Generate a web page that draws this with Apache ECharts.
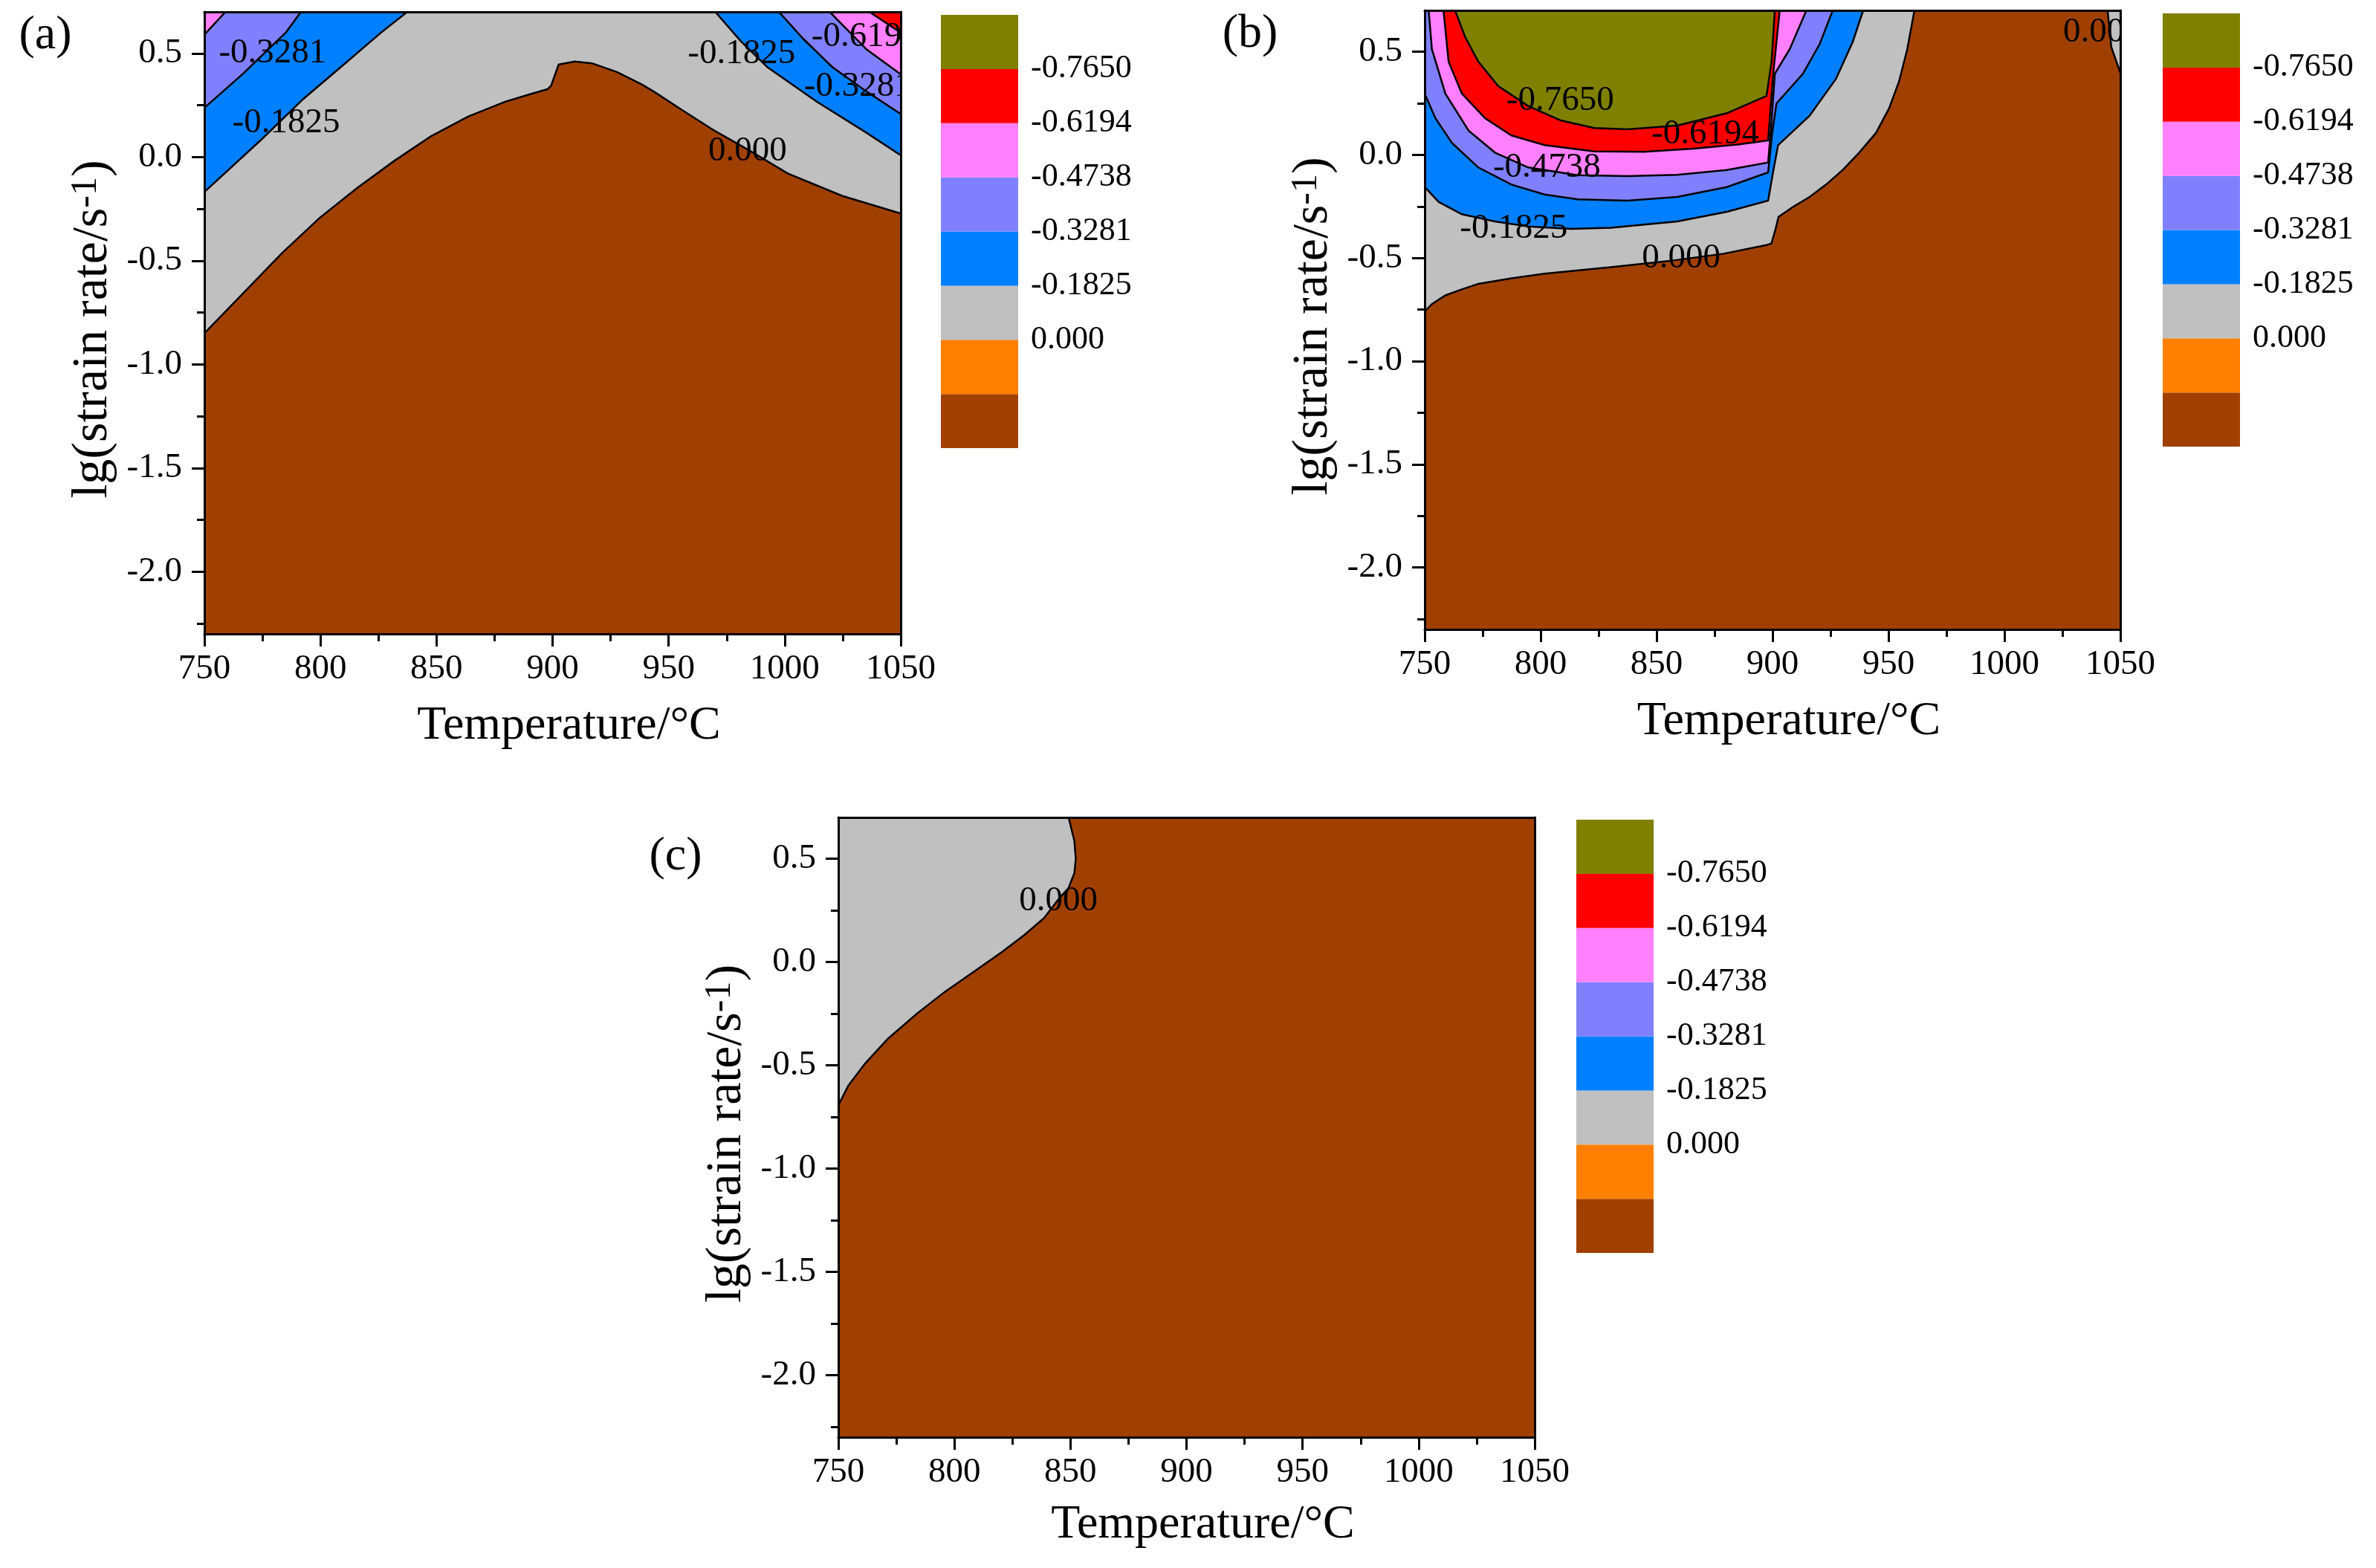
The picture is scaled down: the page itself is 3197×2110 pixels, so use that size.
<!DOCTYPE html>
<html><head><meta charset="utf-8">
<script src="https://cdn.jsdelivr.net/npm/echarts@6/dist/echarts.min.js"></script>
<style>html,body{margin:0;padding:0;background:#fff}#c{width:3197px;height:2110px}</style>
</head><body><div id="c"></div><script>
// ---------- axis / legend data ----------
const T_RANGE = [750, 1050];
const LG_RANGE = [-2.3, 0.7];
const Y_TICKS = [-2.0, -1.5, -1.0, -0.5, 0.0, 0.5];
const Y_MINOR = [-2.25, -1.75, -1.25, -0.75, -0.25, 0.25];
const LEVEL_LABELS = ['', '', '0.000', '-0.1825', '-0.3281', '-0.4738', '-0.6194', '-0.7650', ''];
const LEVEL_COLORS = ['#A04000', '#FF8000', '#C0C0C0', '#0080FF', '#8080FF', '#FF80FF', '#FF0000', '#808000'];
const PLOT_RECT = [[750, -2.3], [1050, -2.3], [1050, 0.7], [750, 0.7]];

// ---------- panel (a) contour lines [T, lg(rate)] ----------
const A_c0 = [[750,-0.85],[765,-0.677],[783.6,-0.462],[799.6,-0.294],[815.6,-0.151],[831.6,-0.02],[847.6,0.100],[863.6,0.195],[879.6,0.267],[890.3,0.303],[897.8,0.327],[899.4,0.345],[902.6,0.446],[909.5,0.461],[917,0.452],[927.7,0.41],[938.3,0.351],[943.7,0.315],[956,0.225],[969.3,0.130],[985,0.03],[1001.3,-0.079],[1024.7,-0.187],[1050,-0.272]];
const A_l1 = [[750,-0.169],[775,0.089],[792.6,0.28],[811.3,0.458],[826.2,0.601],[837.4,0.70]];
const A_l2 = [[750,0.237],[766.5,0.40],[785.2,0.602],[791.6,0.70]];
const A_l3 = [[750,0.59],[759.1,0.70]];
const A_r1 = [[970.1,0.70],[981,0.56],[992.5,0.434],[1013.8,0.267],[1035.1,0.118],[1050,0.008]];
const A_r2 = [[997.5,0.70],[1008,0.57],[1020.5,0.434],[1035.4,0.315],[1050,0.207]];
const A_r3 = [[1019.4,0.70],[1035.4,0.518],[1050,0.399]];
const A_r4 = [[1036.5,0.70],[1050,0.60]];
const A_labels = [[779.4,0.50,'-0.3281','center'],[785.2,0.162,'-0.1825','center'],[984,0.026,'0.000','center'],[981.4,0.497,'-0.1825','center'],[1008.3,0.339,'-0.3281','left'],[1011.5,0.578,'-0.6194','left']];

// ---------- panel (b) ----------
const B_c0 = [[750,-0.759],[753.1,-0.723],[758.9,-0.681],[766,-0.652],[773.1,-0.625],[787.4,-0.598],[801.7,-0.576],[830.3,-0.544],[855,-0.515],[878.9,-0.479],[897.4,-0.437],[899.5,-0.43],[901.3,-0.36],[902.6,-0.30],[908.9,-0.252],[916,-0.204],[923.1,-0.144],[930.3,-0.073],[937.4,0.011],[944.6,0.106],[950.3,0.226],[954.6,0.357],[958.1,0.512],[961.2,0.70]];
const B_c0b = [[1044.5,0.70],[1046.1,0.523],[1050,0.397]];
const B_l1 = [[750,-0.156],[756,-0.228],[766,-0.288],[780.3,-0.323],[794.6,-0.347],[813.1,-0.359],[830.3,-0.353],[858.9,-0.323],[880.3,-0.276],[898.1,-0.222],[900.3,-0.08],[902.4,0.047],[916,0.190],[927.4,0.369],[934.6,0.548],[939.1,0.70]];
const B_l2 = [[750,0.297],[754.6,0.178],[761.7,0.058],[773.1,-0.061],[787.4,-0.144],[801.7,-0.192],[816,-0.216],[837.4,-0.222],[858.9,-0.204],[880.3,-0.156],[898.1,-0.085],[899.8,0.10],[901.7,0.249],[913.1,0.393],[920.3,0.536],[926,0.70]];
const B_l3 = [[751.7,0.70],[753.1,0.512],[758.9,0.297],[768.9,0.118],[780.3,0.011],[794.6,-0.061],[816,-0.099],[837.4,-0.103],[858.9,-0.097],[880.3,-0.073],[898.1,-0.037],[899.5,0.15],[901,0.393],[907.4,0.512],[914.6,0.70]];
const B_l4 = [[758.1,0.70],[760.3,0.452],[766,0.297],[776,0.178],[787.4,0.094],[801.7,0.047],[823.1,0.017],[844.6,0.015],[866,0.03],[885,0.05],[898.1,0.07],[900.3,0.393],[903.1,0.70]];
const B_l5 = [[763.1,0.70],[767.4,0.572],[773.1,0.452],[781.7,0.333],[794.6,0.237],[808.9,0.166],[823.1,0.130],[837.4,0.124],[858.9,0.142],[880.3,0.202],[897.4,0.285],[899.6,0.452],[901,0.70]];
const B_labels = [[808.4,0.261,'-0.7650','center'],[871,0.100,'-0.6194','center'],[802.7,-0.061,'-0.4738','center'],[788.4,-0.359,'-0.1825','center'],[860.6,-0.50,'0.000','center'],[1025.3,0.592,'0.000','left']];

// ---------- panel (c) ----------
const C_c0 = [[849.2,0.70],[851.7,0.586],[852.3,0.50],[851.7,0.431],[849.2,0.359],[844.9,0.305],[838.8,0.215],[830.2,0.132],[820.4,0.048],[808.2,-0.048],[795.9,-0.144],[783.7,-0.251],[771.4,-0.371],[761.6,-0.49],[754.3,-0.598],[750,-0.694]];
const C_labels = [[844.8,0.293,'0.000','center']];

const TL = [750, 0.7], TR = [1050, 0.7];
const FONT = '"Liberation Serif", "Times New Roman", serif';

const panels = [
  { grid: {left: 275, top: 16, width: 937, height: 837}, cbar: {left: 1266, top: 20, width: 104, height: 583}, xNameGap: 92,
    regions: [[PLOT_RECT,0],[A_c0.concat([TR,TL]),2],[A_l1.concat([TL]),3],[A_l2.concat([TL]),4],[A_l3.concat([TL]),5],
              [A_r1.concat([TR]),3],[A_r2.concat([TR]),4],[A_r3.concat([TR]),5],[A_r4.concat([TR]),6]],
    lines: [A_c0,A_l1,A_l2,A_l3,A_r1,A_r2,A_r3,A_r4], labels: A_labels, letter: ['(a)', 61, 48] },
  { grid: {left: 1917, top: 14, width: 936, height: 833}, cbar: {left: 2910, top: 18, width: 104, height: 583}, xNameGap: 92,
    regions: [[PLOT_RECT,0],[B_c0.concat([TL]),2],[B_c0b.concat([TR]),2],[B_l1.concat([TL]),3],[B_l2.concat([TL]),4],
              [B_l3,5],[B_l4,6],[B_l5,7]],
    lines: [B_c0,B_c0b,B_l1,B_l2,B_l3,B_l4,B_l5], labels: B_labels, letter: ['(b)', 1682, 46] },
  { grid: {left: 1128, top: 1100, width: 937, height: 834}, cbar: {left: 2121, top: 1103, width: 104, height: 583}, xNameGap: 86,
    regions: [[PLOT_RECT,0],[C_c0.concat([TL]),2]],
    lines: [C_c0], labels: C_labels, letter: ['(c)', 909, 1153] }
];

const grid = [], xAxis = [], yAxis = [], series = [], graphic = [];
const axisBlack = {color: '#000', width: 3};
panels.forEach((p) => {
  const gi = grid.length;
  grid.push(Object.assign({containLabel: false, outerBoundsMode: 'none'}, p.grid));
  grid.push(Object.assign({containLabel: false, outerBoundsMode: 'none'}, p.cbar));
  const xi = xAxis.length;
  xAxis.push({
    gridIndex: gi, type: 'value', min: T_RANGE[0], max: T_RANGE[1], interval: 50, position: 'bottom', z: 10,
    name: 'Temperature/°C', nameLocation: 'middle', nameGap: p.xNameGap,
    nameTextStyle: {fontSize: 64, fontFamily: FONT, color: '#000', padding: [0, 0, 0, 44]},
    axisLine: {show: true, onZero: false, lineStyle: axisBlack},
    axisTick: {show: true, inside: false, length: 17, lineStyle: axisBlack},
    minorTick: {show: true, splitNumber: 2, length: 10, lineStyle: axisBlack},
    axisLabel: {fontSize: 47, fontFamily: FONT, color: '#000', margin: 24, formatter: (v) => String(v)},
    splitLine: {show: false}, minorSplitLine: {show: false}
  });
  xAxis.push({gridIndex: gi, type: 'value', min: T_RANGE[0], max: T_RANGE[1], position: 'top', z: 10,
    axisLine: {show: true, onZero: false, lineStyle: axisBlack}, axisTick: {show: false}, axisLabel: {show: false}, splitLine: {show: false}});
  xAxis.push({gridIndex: gi + 1, type: 'value', min: 0, max: 1, show: false});
  const yi = yAxis.length;
  yAxis.push({
    gridIndex: gi, type: 'value', min: LG_RANGE[0], max: LG_RANGE[1], position: 'left', z: 10,
    name: '{n|lg(strain rate/s}{s|-1}{n|)}', nameLocation: 'middle', nameGap: 116, nameRotate: 90,
    nameTextStyle: {padding: [0, 17, 0, 0], rich: {
      n: {fontSize: 68, fontFamily: FONT, color: '#000'},
      s: {fontSize: 50, fontFamily: FONT, color: '#000', verticalAlign: 'top'}
    }},
    axisLine: {show: true, onZero: false, lineStyle: axisBlack},
    axisTick: {show: true, inside: false, length: 17, lineStyle: axisBlack, customValues: Y_TICKS},
    axisLabel: {fontSize: 47, fontFamily: FONT, color: '#000', margin: 30, customValues: Y_TICKS,
      formatter: (v) => Number(v).toFixed(1)},
    splitLine: {show: false}
  });
  yAxis.push({gridIndex: gi, type: 'value', min: LG_RANGE[0], max: LG_RANGE[1], position: 'left', z: 10,
    axisLine: {show: false}, axisTick: {show: true, inside: false, length: 10, lineStyle: axisBlack, customValues: Y_MINOR},
    axisLabel: {show: false}, splitLine: {show: false}});
  yAxis.push({gridIndex: gi, type: 'value', min: LG_RANGE[0], max: LG_RANGE[1], position: 'right', z: 10,
    axisLine: {show: true, onZero: false, lineStyle: axisBlack}, axisTick: {show: false}, axisLabel: {show: false}, splitLine: {show: false}});
  yAxis.push({gridIndex: gi + 1, type: 'value', min: 0, max: 8, interval: 1, position: 'right',
    axisLine: {show: false}, axisTick: {show: false}, splitLine: {show: false},
    axisLabel: {fontSize: 44, fontFamily: FONT, color: '#000', margin: 17, padding: [20, 0, 0, 0],
      formatter: (v) => LEVEL_LABELS[Math.round(v)] || ''}});

  // filled contour regions
  const regs = p.regions;
  series.push({type: 'custom', xAxisIndex: xi, yAxisIndex: yi, z: 2, clip: true, silent: true,
    data: regs.map(r => r[0][0]),
    renderItem: (params, api) => {
      const r = regs[params.dataIndex];
      return {type: 'polygon', shape: {points: r[0].map(pt => api.coord(pt))}, style: {fill: LEVEL_COLORS[r[1]]}};
    }});
  // contour lines
  const lns = p.lines;
  series.push({type: 'custom', xAxisIndex: xi, yAxisIndex: yi, z: 3, clip: true, silent: true,
    data: lns.map(l => l[0]),
    renderItem: (params, api) => ({type: 'polyline', shape: {points: lns[params.dataIndex].map(pt => api.coord(pt))},
      style: {stroke: '#000', lineWidth: 2.5, fill: null}})});
  // contour labels
  const lbs = p.labels;
  series.push({type: 'custom', xAxisIndex: xi, yAxisIndex: yi, z: 4, clip: true, silent: true,
    data: lbs.map(l => [l[0], l[1]]),
    renderItem: (params, api) => {
      const l = lbs[params.dataIndex];
      const c = api.coord([l[0], l[1]]);
      return {type: 'text', x: c[0], y: c[1], style: {text: l[2], fill: '#000', fontSize: 47, fontFamily: FONT,
        align: l[3], verticalAlign: 'middle'}};
    }});
  // colour bar
  series.push({type: 'custom', xAxisIndex: xi + 2, yAxisIndex: yi + 3, z: 2, silent: true,
    data: LEVEL_COLORS.map((c, i) => [0, i]),
    renderItem: (params, api) => {
      const i = params.dataIndex;
      const a = api.coord([0, i]), b = api.coord([1, i + 1]);
      return {type: 'rect', shape: {x: a[0], y: b[1], width: b[0] - a[0], height: a[1] - b[1]},
        style: {fill: LEVEL_COLORS[i]}};
    }});
  graphic.push({type: 'text', x: p.letter[1], y: p.letter[2], style: {text: p.letter[0], fontSize: 64,
    fontFamily: FONT, fill: '#000', align: 'center', verticalAlign: 'middle'}});
});

const chart = echarts.init(document.getElementById('c'), null, {renderer: 'canvas'});
chart.setOption({backgroundColor: '#fff', animation: false, grid, xAxis, yAxis, series, graphic});
</script></body></html>
